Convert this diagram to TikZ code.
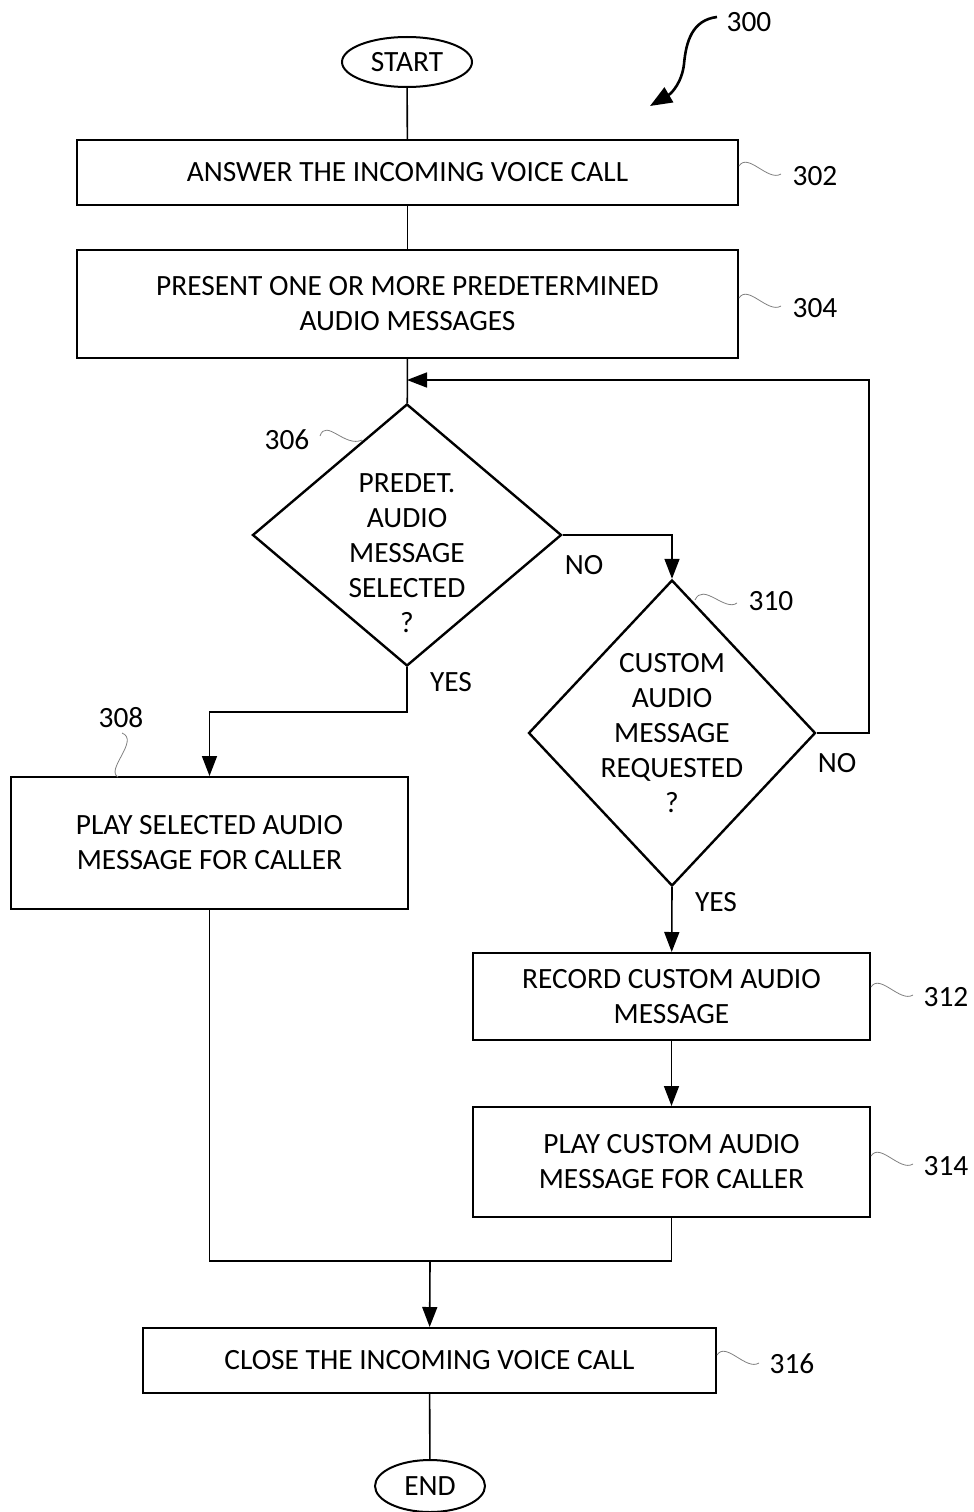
\documentclass[tikz,border=0pt]{standalone}
\usepackage{fontspec}
\setmainfont{Carlito}
\usetikzlibrary{shapes.geometric,arrows.meta}

\begin{document}
\begin{tikzpicture}[x=1pt,y=-1pt,
  every node/.style={font=\fontsize{29.4}{35}\selectfont},
  box/.style={draw,line width=2pt,inner sep=0pt,align=center},
  term/.style={draw,ellipse,line width=2pt,inner sep=0pt},
  decision/.style={draw,diamond,line width=2.4pt,inner sep=0pt},
  flow/.style={line width=1.6pt},
  arr/.style={flow,-{Triangle[length=20pt,width=15pt]}},
  tag/.style={gray,line width=0.8pt}]
  \useasboundingbox (0,0) rectangle (974,1512);

  % steps
  \node[term,minimum width=130pt,minimum height=50pt] (start) at (407,62) {START};
  \node[box,minimum width=661pt,minimum height=65pt] (answer) at (407.5,172.5) {ANSWER THE INCOMING VOICE CALL};
  \node[box,minimum width=661pt,minimum height=108pt] (present) at (407.5,304) {PRESENT ONE OR MORE PREDETERMINED\\AUDIO MESSAGES};
  \node[decision,minimum width=309pt,minimum height=262pt] (predet) at (407,535) {};
  \node[align=center] (predettext) at (407,553) {PREDET.\\AUDIO\\MESSAGE\\SELECTED\\?};
  \node[decision,minimum width=287pt,minimum height=306pt] (custom) at (672,733) {};
  \node[align=center] (customtext) at (672,733) {CUSTOM\\AUDIO\\MESSAGE\\REQUESTED\\?};
  \node[box,minimum width=397pt,minimum height=132pt] (play) at (209.5,843) {PLAY SELECTED AUDIO\\MESSAGE FOR CALLER};
  \node[box,minimum width=397pt,minimum height=87pt] (record) at (671.5,996.5) {RECORD CUSTOM AUDIO\\MESSAGE};
  \node[box,minimum width=397pt,minimum height=110pt] (playcustom) at (671.5,1162) {PLAY CUSTOM AUDIO\\MESSAGE FOR CALLER};
  \node[box,minimum width=573pt,minimum height=65pt] (close) at (429.5,1360.5) {CLOSE THE INCOMING VOICE CALL};
  \node[term,minimum width=110pt,minimum height=52pt] (stop) at (430,1486) {END};

  \coordinate (loop) at (407,380);
  \coordinate (merge) at (430,1261);

  % connectors
  \draw[flow] (start) -- (answer);
  \draw[flow] (answer) -- (present);
  \draw[flow] (present) -- (predet);
  \draw[arr] (predet.east) -| (custom.north);
  \draw[arr] (custom.east) -- (869,733) -- (869,380) -- (loop);
  \draw[arr] (predet.south) -- ++(0,45) -| (play.north);
  \draw[arr] (custom.south) -- (record);
  \draw[arr] (record) -- (playcustom);
  \draw[flow] (play.south) -- (play.south |- merge) -- (playcustom.south |- merge) -- (playcustom.south);
  \draw[arr] (merge) -- (close);
  \draw[flow] (close) -- (stop);

  \node (no1) at (584,565) {NO};
  \node (yes1) at (451,682) {YES};
  \node (no2) at (837,763) {NO};
  \node (yes2) at (716,902) {YES};

  % reference numerals
  \node (fig) at (749,22) {300};
  \draw[line width=2.6pt,-{Triangle[length=22pt,width=17pt]}] (717,17) .. controls (692,20) and (686,42) .. (684,64) .. controls (682,82) and (672,93) .. (650,106);
  \node (n302) at (815,176) {302};
  \draw[tag] (739,166) .. controls (748,152) and (768,182) .. (781,174);
  \node (n304) at (815,308) {304};
  \draw[tag] (739,298) .. controls (748,284) and (768,314) .. (781,306);
  \node (n306) at (287,440) {306};
  \draw[tag] (320,436) .. controls (326,418) and (345,448) .. (362,440);
  \node (n308) at (121,718) {308};
  \draw[tag] (122,733) .. controls (140,740) and (105,770) .. (118,777);
  \node (n310) at (771,601) {310};
  \draw[tag] (695,600) .. controls (703,582) and (725,612) .. (737,603);
  \node (n312) at (946,997) {312};
  \draw[tag] (871,987) .. controls (880,973) and (900,1003) .. (913,995);
  \node (n314) at (946,1166) {314};
  \draw[tag] (871,1156) .. controls (880,1142) and (900,1172) .. (913,1164);
  \node (n316) at (792,1364) {316};
  \draw[tag] (717,1355) .. controls (726,1341) and (746,1371) .. (759,1363);
\end{tikzpicture}
\end{document}
